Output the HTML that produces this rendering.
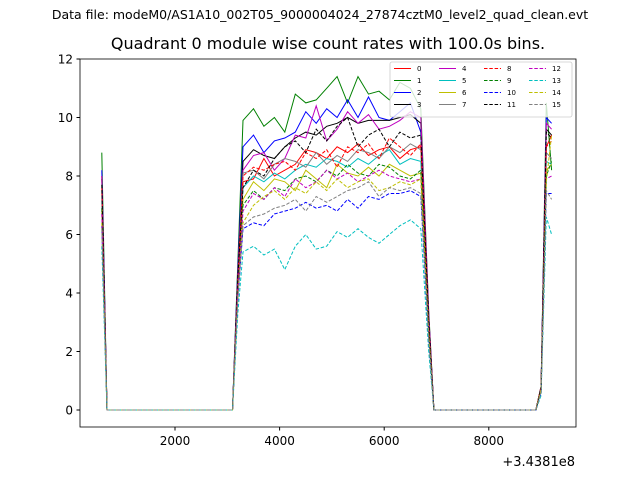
<!DOCTYPE html>
<html><head><meta charset="utf-8"><style>
body{margin:0;background:#fff;font-family:"Liberation Sans","DejaVu Sans",sans-serif;}
svg text{font-family:"DejaVu Sans","Liberation Sans",sans-serif;}
</style></head><body>
<svg id="chart" width="640" height="480" xmlns="http://www.w3.org/2000/svg">
<rect width="640" height="480" fill="#fff"/>
<text x="320" y="19" font-size="12.5" text-anchor="middle">Data file: modeM0/AS1A10_002T05_9000004024_27874cztM0_level2_quad_clean.evt</text>
<text x="328" y="49" font-size="16" text-anchor="middle">Quadrant 0 module wise count rates with 100.0s bins.</text>
<g id="plot"></g>
<rect x="80" y="59" width="496" height="368" fill="none" stroke="#000" stroke-width="0.8"/>
<g id="axes"></g>
<text x="575" y="466" font-size="13" text-anchor="end">+3.4381e8</text>
<g id="legend"></g>
</svg>
<script>
const times=[600,700,3100,3200,3300,3500,3700,3900,4100,4300,4500,4700,4900,5100,5300,5500,5700,5900,6100,6300,6500,6700,6850,6950,8900,9000,9100,9200];
const s0=[8.0,0,0,4.5,7.8,7.9,8.6,8.0,8.2,8.4,8.9,8.8,8.6,9.0,8.8,9.1,8.7,8.9,9.0,8.6,8.9,9.0,3.0,0,0,0.8,9.0,9.4];
const s1=[8.8,0,0,5.0,9.9,10.3,9.7,10.0,9.5,10.8,10.5,10.6,11.0,11.4,10.5,11.4,10.8,10.9,10.6,11.2,11.0,10.3,3.4,0,0,0.8,10.5,8.2];
const s2=[8.2,0,0,4.8,9.0,9.4,8.8,9.2,9.3,9.5,10.2,9.8,10.3,10.0,10.6,10.0,10.7,10.0,9.9,10.2,10.5,9.5,3.2,0,0,0.8,10.0,9.8];
const s3=[7.9,0,0,4.6,8.5,8.9,8.7,8.6,9.0,9.3,9.5,9.4,9.7,9.8,10.0,9.8,9.9,9.9,9.9,10.0,10.1,9.8,3.2,0,0,0.8,9.6,9.4];
const s4=[8.0,0,0,4.6,8.2,8.7,8.8,8.2,8.6,9.4,9.3,10.4,9.2,9.6,10.2,9.8,10.1,9.6,9.7,9.9,10.2,10.0,3.3,0,0,0.8,9.8,9.6];
const s5=[7.2,0,0,4.3,7.6,8.0,7.8,8.1,7.9,8.2,8.4,8.3,8.6,8.5,8.3,8.6,8.4,8.7,8.9,8.4,8.6,8.5,2.8,0,0,0.7,8.5,8.4];
const s6=[6.8,0,0,4.1,7.2,7.8,7.5,7.9,7.8,7.5,8.2,7.9,7.6,8.4,8.1,8.0,8.3,8.0,8.4,8.2,8.0,8.1,2.7,0,0,0.7,8.2,8.4];
const s7=[7.5,0,0,4.4,8.1,8.2,7.9,8.4,8.6,8.5,8.3,8.8,8.4,8.7,8.5,8.9,8.8,8.6,9.0,8.8,9.1,8.9,2.9,0,0,0.8,8.8,8.6];
const s8=[7.6,0,0,4.4,8.0,8.3,8.2,8.4,8.5,8.2,8.8,8.6,8.9,8.3,9.0,8.8,9.1,8.6,9.3,9.0,8.7,9.1,3.0,0,0,0.8,9.0,9.2];
const s9=[6.9,0,0,4.0,7.0,7.5,7.2,7.6,7.5,7.9,8.0,7.8,8.2,8.0,8.4,8.1,8.0,8.4,8.3,8.0,7.9,8.2,2.7,0,0,0.7,8.0,8.5];
const s10=[6.3,0,0,3.8,6.2,6.4,6.3,6.7,6.8,6.9,7.1,6.9,7.0,6.8,7.2,6.9,7.3,7.2,7.4,7.4,7.5,7.3,2.4,0,0,0.6,7.4,7.4];
const s11=[7.7,0,0,4.5,7.6,8.2,8.0,8.6,9.0,9.2,8.8,9.6,9.2,9.7,10.0,9.0,9.4,9.6,9.0,9.5,9.3,9.4,3.1,0,0,0.8,9.5,9.3];
const s12=[6.7,0,0,4.0,6.8,7.4,7.2,7.6,7.3,7.9,7.6,7.8,8.2,7.9,8.1,7.8,8.0,8.2,8.0,7.9,7.8,7.9,2.6,0,0,0.7,7.9,8.0];
const s13=[5.6,0,0,3.3,5.4,5.6,5.3,5.5,4.8,5.6,6.0,5.5,5.6,6.1,5.9,6.2,5.9,5.7,6.0,6.3,6.5,6.2,2.0,0,0,0.5,6.6,6.0];
const s14=[6.4,0,0,3.9,6.4,7.0,7.3,7.5,7.2,7.6,7.4,7.8,7.5,7.9,7.6,7.8,7.9,7.5,7.6,7.8,7.7,7.9,2.6,0,0,0.7,7.8,9.4];
const s15=[6.2,0,0,3.8,6.3,6.6,6.7,6.9,7.0,7.2,6.8,7.3,7.1,7.3,7.5,7.6,7.8,7.3,7.6,7.5,7.6,7.4,2.4,0,0,0.6,7.5,7.2];
const seriesNames=["0","1","2","3","4","5","6","7","8","9","10","11","12","13","14","15"];
const xTicks=[2000,4000,6000,8000];
const yTicks=[0,2,4,6,8,10,12];
const series=[s0,s1,s2,s3,s4,s5,s6,s7,s8,s9,s10,s11,s12,s13,s14,s15];
const colors=["#ff0000","#008000","#0000ff","#000000","#bf00bf","#00bfbf","#bfbf00","#808080"];
const NS="http://www.w3.org/2000/svg";
function X(v){return 70.4+v*0.0523;}
function Y(v){return 410-v*29.25;}
const plot=document.getElementById('plot');
series.forEach((s,i)=>{
  const p=document.createElementNS(NS,'polyline');
  p.setAttribute('points',s.map((v,j)=>X(times[j]).toFixed(1)+','+Y(v).toFixed(1)).join(' '));
  p.setAttribute('fill','none');
  p.setAttribute('stroke',colors[i%8]);
  p.setAttribute('stroke-width','1');
  if(i>=8)p.setAttribute('stroke-dasharray','3.5,1.8');
  
  
  plot.appendChild(p);
});
const axes=document.getElementById('axes');
xTicks.forEach(t=>{
  const l=document.createElementNS(NS,'line');
  l.setAttribute('x1',X(t));l.setAttribute('x2',X(t));l.setAttribute('y1',427);l.setAttribute('y2',430.5);l.setAttribute('stroke','#000');
  
  
  axes.appendChild(l);
  const tx=document.createElementNS(NS,'text');
  tx.setAttribute('x',X(t));tx.setAttribute('y',445);tx.setAttribute('font-size','12');tx.setAttribute('text-anchor','middle');
  tx.textContent=t;
  
  
  axes.appendChild(tx);
});
yTicks.forEach(t=>{
  const l=document.createElementNS(NS,'line');
  l.setAttribute('x1',76.5);l.setAttribute('x2',80);l.setAttribute('y1',Y(t));l.setAttribute('y2',Y(t));l.setAttribute('stroke','#000');
  
  
  axes.appendChild(l);
  const tx=document.createElementNS(NS,'text');
  tx.setAttribute('x',73);tx.setAttribute('y',Y(t)+4.5);tx.setAttribute('font-size','12');tx.setAttribute('text-anchor','end');
  tx.textContent=t;
  
  
  axes.appendChild(tx);
});
const lg=document.getElementById('legend');
const box=document.createElementNS(NS,'rect');
box.setAttribute('x',390);box.setAttribute('y',62);box.setAttribute('width',182);box.setAttribute('height',55);box.setAttribute('rx',2);
box.setAttribute('fill','rgba(255,255,255,0.8)');box.setAttribute('stroke','#ccc');box.setAttribute('stroke-width','0.8');


lg.appendChild(box);
seriesNames.forEach((n,i)=>{
  const col=Math.floor(i/4),row=i%4;
  const x0=394+col*45,y0=68.5+row*12;
  const l=document.createElementNS(NS,'line');
  l.setAttribute('x1',x0);l.setAttribute('x2',x0+17);l.setAttribute('y1',y0);l.setAttribute('y2',y0);
  l.setAttribute('stroke',colors[i%8]);l.setAttribute('stroke-width','1');
  if(i>=8)l.setAttribute('stroke-dasharray','3.5,1.8');
  
  
  lg.appendChild(l);
  const t=document.createElementNS(NS,'text');
  t.setAttribute('x',x0+23);t.setAttribute('y',y0+2.5);t.setAttribute('font-size','7');
  t.textContent=n;
  
  
  lg.appendChild(t);
});
</script>
</body></html>
